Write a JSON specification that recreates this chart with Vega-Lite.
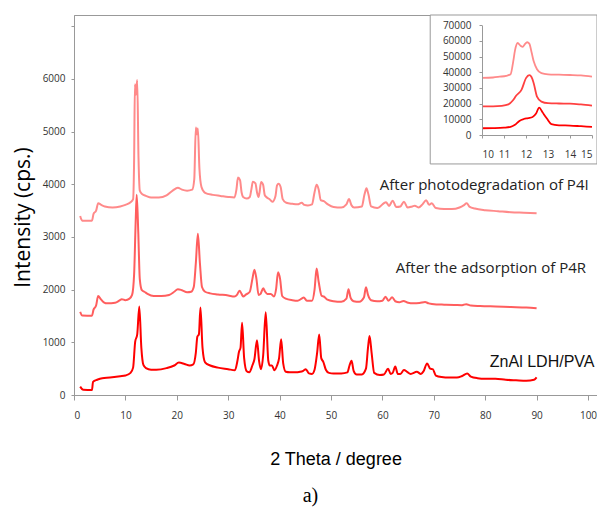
{
  "$schema": "https://vega.github.io/schema/vega-lite/v6.json",
  "width": 523,
  "height": 380,
  "autosize": "none",
  "padding": {"left": 74, "top": 15, "right": 0, "bottom": 118},
  "background": "white",
  "config": {"view": {"stroke": "#999", "strokeWidth": 1}},
  "title": {"text": "a)", "orient": "bottom", "font": "Liberation Serif", "fontSize": 20, "fontWeight": "normal", "color": "#000", "dx": -25, "offset": 18},
  "datasets": {
    "main": [
      {"s":"ZnAl","x":1.2,"y":160},{"s":"ZnAl","x":1.8,"y":100},{"s":"ZnAl","x":3.5,"y":95},{"s":"ZnAl","x":3.7,"y":250},{"s":"ZnAl","x":4.5,"y":290},{"s":"ZnAl","x":5.5,"y":320},{"s":"ZnAl","x":7,"y":330},{"s":"ZnAl","x":9,"y":355},{"s":"ZnAl","x":10,"y":370},{"s":"ZnAl","x":11,"y":420},{"s":"ZnAl","x":11.5,"y":520},{"s":"ZnAl","x":11.9,"y":1010},{"s":"ZnAl","x":12.3,"y":1150},{"s":"ZnAl","x":12.7,"y":1680},{"s":"ZnAl","x":13.1,"y":900},{"s":"ZnAl","x":13.5,"y":570},{"s":"ZnAl","x":14,"y":510},{"s":"ZnAl","x":15,"y":480},{"s":"ZnAl","x":16,"y":480},{"s":"ZnAl","x":18,"y":510},{"s":"ZnAl","x":19.5,"y":560},{"s":"ZnAl","x":20.4,"y":615},{"s":"ZnAl","x":21.5,"y":590},{"s":"ZnAl","x":22.5,"y":560},{"s":"ZnAl","x":23.2,"y":580},{"s":"ZnAl","x":23.7,"y":800},{"s":"ZnAl","x":24.0,"y":1110},{"s":"ZnAl","x":24.3,"y":1150},{"s":"ZnAl","x":24.6,"y":1660},{"s":"ZnAl","x":25.0,"y":900},{"s":"ZnAl","x":25.5,"y":620},{"s":"ZnAl","x":26.5,"y":560},{"s":"ZnAl","x":28,"y":520},{"s":"ZnAl","x":30,"y":490},{"s":"ZnAl","x":31.3,"y":470},{"s":"ZnAl","x":31.8,"y":650},{"s":"ZnAl","x":32.1,"y":820},{"s":"ZnAl","x":32.4,"y":900},{"s":"ZnAl","x":32.7,"y":1370},{"s":"ZnAl","x":33.1,"y":700},{"s":"ZnAl","x":33.6,"y":450},{"s":"ZnAl","x":34.1,"y":430},{"s":"ZnAl","x":34.7,"y":560},{"s":"ZnAl","x":35.1,"y":680},{"s":"ZnAl","x":35.6,"y":1040},{"s":"ZnAl","x":36.0,"y":650},{"s":"ZnAl","x":36.4,"y":490},{"s":"ZnAl","x":36.8,"y":750},{"s":"ZnAl","x":37.3,"y":1570},{"s":"ZnAl","x":37.8,"y":650},{"s":"ZnAl","x":38.1,"y":560},{"s":"ZnAl","x":38.5,"y":560},{"s":"ZnAl","x":39.0,"y":470},{"s":"ZnAl","x":39.5,"y":560},{"s":"ZnAl","x":39.9,"y":700},{"s":"ZnAl","x":40.3,"y":1060},{"s":"ZnAl","x":40.7,"y":600},{"s":"ZnAl","x":41.2,"y":440},{"s":"ZnAl","x":42,"y":430},{"s":"ZnAl","x":43,"y":430},{"s":"ZnAl","x":44,"y":440},{"s":"ZnAl","x":44.6,"y":460},{"s":"ZnAl","x":45.1,"y":490},{"s":"ZnAl","x":45.7,"y":410},{"s":"ZnAl","x":46.3,"y":400},{"s":"ZnAl","x":46.8,"y":480},{"s":"ZnAl","x":47.3,"y":800},{"s":"ZnAl","x":47.7,"y":1150},{"s":"ZnAl","x":48.1,"y":700},{"s":"ZnAl","x":48.5,"y":630},{"s":"ZnAl","x":49,"y":480},{"s":"ZnAl","x":49.6,"y":420},{"s":"ZnAl","x":50.5,"y":410},{"s":"ZnAl","x":52,"y":410},{"s":"ZnAl","x":53.2,"y":430},{"s":"ZnAl","x":53.6,"y":560},{"s":"ZnAl","x":54.0,"y":650},{"s":"ZnAl","x":54.4,"y":460},{"s":"ZnAl","x":55,"y":390},{"s":"ZnAl","x":56,"y":390},{"s":"ZnAl","x":56.8,"y":500},{"s":"ZnAl","x":57.2,"y":900},{"s":"ZnAl","x":57.5,"y":1120},{"s":"ZnAl","x":57.9,"y":800},{"s":"ZnAl","x":58.4,"y":420},{"s":"ZnAl","x":59.5,"y":380},{"s":"ZnAl","x":60.3,"y":390},{"s":"ZnAl","x":61.1,"y":500},{"s":"ZnAl","x":61.6,"y":400},{"s":"ZnAl","x":62.0,"y":420},{"s":"ZnAl","x":62.5,"y":540},{"s":"ZnAl","x":63.0,"y":400},{"s":"ZnAl","x":63.5,"y":400},{"s":"ZnAl","x":64.2,"y":475},{"s":"ZnAl","x":64.8,"y":440},{"s":"ZnAl","x":65.5,"y":400},{"s":"ZnAl","x":66.7,"y":440},{"s":"ZnAl","x":67.5,"y":400},{"s":"ZnAl","x":68.0,"y":450},{"s":"ZnAl","x":68.7,"y":600},{"s":"ZnAl","x":69.3,"y":500},{"s":"ZnAl","x":69.8,"y":490},{"s":"ZnAl","x":70.4,"y":370},{"s":"ZnAl","x":71.5,"y":340},{"s":"ZnAl","x":73,"y":330},{"s":"ZnAl","x":74.5,"y":330},{"s":"ZnAl","x":75.5,"y":360},{"s":"ZnAl","x":76.5,"y":410},{"s":"ZnAl","x":77.2,"y":350},{"s":"ZnAl","x":78.5,"y":320},{"s":"ZnAl","x":80,"y":310},{"s":"ZnAl","x":82,"y":310},{"s":"ZnAl","x":84,"y":290},{"s":"ZnAl","x":86,"y":280},{"s":"ZnAl","x":88,"y":272},{"s":"ZnAl","x":89.5,"y":290},{"s":"ZnAl","x":90,"y":335},
      {"s":"Ads","x":1.2,"y":1580},{"s":"Ads","x":1.6,"y":1510},{"s":"Ads","x":3.5,"y":1505},{"s":"Ads","x":3.8,"y":1620},{"s":"Ads","x":4.3,"y":1700},{"s":"Ads","x":4.7,"y":1880},{"s":"Ads","x":5.2,"y":1820},{"s":"Ads","x":5.8,"y":1760},{"s":"Ads","x":6.5,"y":1740},{"s":"Ads","x":8,"y":1750},{"s":"Ads","x":8.8,"y":1790},{"s":"Ads","x":9.3,"y":1820},{"s":"Ads","x":10,"y":1800},{"s":"Ads","x":10.8,"y":1830},{"s":"Ads","x":11.3,"y":1900},{"s":"Ads","x":11.7,"y":2300},{"s":"Ads","x":12.0,"y":3300},{"s":"Ads","x":12.2,"y":3800},{"s":"Ads","x":12.5,"y":3100},{"s":"Ads","x":12.8,"y":2200},{"s":"Ads","x":13.2,"y":1990},{"s":"Ads","x":13.7,"y":1960},{"s":"Ads","x":14.3,"y":1920},{"s":"Ads","x":15.5,"y":1880},{"s":"Ads","x":17,"y":1880},{"s":"Ads","x":18.5,"y":1900},{"s":"Ads","x":19.5,"y":1960},{"s":"Ads","x":20.2,"y":2010},{"s":"Ads","x":21,"y":1990},{"s":"Ads","x":22,"y":1950},{"s":"Ads","x":22.8,"y":1960},{"s":"Ads","x":23.3,"y":2050},{"s":"Ads","x":23.7,"y":2500},{"s":"Ads","x":24.1,"y":3060},{"s":"Ads","x":24.5,"y":2500},{"s":"Ads","x":24.9,"y":2050},{"s":"Ads","x":25.5,"y":1960},{"s":"Ads","x":26.5,"y":1930},{"s":"Ads","x":28,"y":1910},{"s":"Ads","x":30,"y":1890},{"s":"Ads","x":31.2,"y":1870},{"s":"Ads","x":31.7,"y":1900},{"s":"Ads","x":32.2,"y":1980},{"s":"Ads","x":32.6,"y":1920},{"s":"Ads","x":32.9,"y":1870},{"s":"Ads","x":33.5,"y":1910},{"s":"Ads","x":34.2,"y":1960},{"s":"Ads","x":34.7,"y":2200},{"s":"Ads","x":35.1,"y":2380},{"s":"Ads","x":35.5,"y":2200},{"s":"Ads","x":35.9,"y":1900},{"s":"Ads","x":36.3,"y":1920},{"s":"Ads","x":36.8,"y":2025},{"s":"Ads","x":37.2,"y":1960},{"s":"Ads","x":37.6,"y":1920},{"s":"Ads","x":38.3,"y":1920},{"s":"Ads","x":38.9,"y":1870},{"s":"Ads","x":39.3,"y":2000},{"s":"Ads","x":39.7,"y":2330},{"s":"Ads","x":40.1,"y":2200},{"s":"Ads","x":40.5,"y":1880},{"s":"Ads","x":41.2,"y":1830},{"s":"Ads","x":42.5,"y":1800},{"s":"Ads","x":43.5,"y":1790},{"s":"Ads","x":44.3,"y":1830},{"s":"Ads","x":44.7,"y":1850},{"s":"Ads","x":45.3,"y":1790},{"s":"Ads","x":46.3,"y":1790},{"s":"Ads","x":46.8,"y":2000},{"s":"Ads","x":47.2,"y":2400},{"s":"Ads","x":47.6,"y":2150},{"s":"Ads","x":48.2,"y":1880},{"s":"Ads","x":48.6,"y":1870},{"s":"Ads","x":49.3,"y":1810},{"s":"Ads","x":50.5,"y":1780},{"s":"Ads","x":52,"y":1770},{"s":"Ads","x":53.0,"y":1830},{"s":"Ads","x":53.4,"y":2010},{"s":"Ads","x":53.8,"y":1850},{"s":"Ads","x":54.4,"y":1780},{"s":"Ads","x":55.5,"y":1770},{"s":"Ads","x":56.4,"y":1850},{"s":"Ads","x":56.8,"y":2045},{"s":"Ads","x":57.2,"y":1900},{"s":"Ads","x":57.8,"y":1800},{"s":"Ads","x":59,"y":1780},{"s":"Ads","x":60.0,"y":1790},{"s":"Ads","x":60.6,"y":1865},{"s":"Ads","x":61.2,"y":1790},{"s":"Ads","x":61.9,"y":1855},{"s":"Ads","x":62.5,"y":1780},{"s":"Ads","x":63.3,"y":1760},{"s":"Ads","x":64.1,"y":1785},{"s":"Ads","x":65,"y":1750},{"s":"Ads","x":66,"y":1740},{"s":"Ads","x":67.2,"y":1745},{"s":"Ads","x":68.3,"y":1765},{"s":"Ads","x":69,"y":1740},{"s":"Ads","x":70.5,"y":1720},{"s":"Ads","x":72,"y":1715},{"s":"Ads","x":74,"y":1710},{"s":"Ads","x":75.5,"y":1705},{"s":"Ads","x":76.3,"y":1725},{"s":"Ads","x":77.2,"y":1700},{"s":"Ads","x":79,"y":1690},{"s":"Ads","x":82,"y":1680},{"s":"Ads","x":85,"y":1670},{"s":"Ads","x":88,"y":1660},{"s":"Ads","x":90,"y":1645},
      {"s":"Photo","x":1.2,"y":3400},{"s":"Photo","x":1.6,"y":3310},{"s":"Photo","x":3.5,"y":3310},{"s":"Photo","x":3.8,"y":3440},{"s":"Photo","x":4.3,"y":3500},{"s":"Photo","x":4.7,"y":3640},{"s":"Photo","x":5.3,"y":3610},{"s":"Photo","x":6,"y":3580},{"s":"Photo","x":7.5,"y":3560},{"s":"Photo","x":9,"y":3580},{"s":"Photo","x":10,"y":3610},{"s":"Photo","x":11,"y":3660},{"s":"Photo","x":11.5,"y":3720},{"s":"Photo","x":11.7,"y":4500},{"s":"Photo","x":11.85,"y":5900},{"s":"Photo","x":12.05,"y":5700},{"s":"Photo","x":12.3,"y":5980},{"s":"Photo","x":12.55,"y":4500},{"s":"Photo","x":12.8,"y":3880},{"s":"Photo","x":13.3,"y":3810},{"s":"Photo","x":14,"y":3780},{"s":"Photo","x":15,"y":3750},{"s":"Photo","x":16.5,"y":3750},{"s":"Photo","x":18,"y":3790},{"s":"Photo","x":19.2,"y":3880},{"s":"Photo","x":20.2,"y":3935},{"s":"Photo","x":21,"y":3900},{"s":"Photo","x":22,"y":3880},{"s":"Photo","x":23,"y":3900},{"s":"Photo","x":23.4,"y":4100},{"s":"Photo","x":23.7,"y":5080},{"s":"Photo","x":23.9,"y":4950},{"s":"Photo","x":24.1,"y":5060},{"s":"Photo","x":24.4,"y":4300},{"s":"Photo","x":24.8,"y":3950},{"s":"Photo","x":25.5,"y":3840},{"s":"Photo","x":27,"y":3800},{"s":"Photo","x":28.5,"y":3780},{"s":"Photo","x":30,"y":3760},{"s":"Photo","x":31.2,"y":3750},{"s":"Photo","x":31.6,"y":3900},{"s":"Photo","x":31.9,"y":4130},{"s":"Photo","x":32.3,"y":4080},{"s":"Photo","x":32.6,"y":3850},{"s":"Photo","x":32.9,"y":3760},{"s":"Photo","x":33.6,"y":3730},{"s":"Photo","x":34.2,"y":3760},{"s":"Photo","x":34.5,"y":3900},{"s":"Photo","x":34.8,"y":4050},{"s":"Photo","x":35.3,"y":4020},{"s":"Photo","x":35.6,"y":3850},{"s":"Photo","x":35.9,"y":3760},{"s":"Photo","x":36.1,"y":3850},{"s":"Photo","x":36.4,"y":4045},{"s":"Photo","x":36.8,"y":3990},{"s":"Photo","x":37.1,"y":3800},{"s":"Photo","x":37.4,"y":3760},{"s":"Photo","x":38,"y":3720},{"s":"Photo","x":38.6,"y":3670},{"s":"Photo","x":39.2,"y":3780},{"s":"Photo","x":39.5,"y":3980},{"s":"Photo","x":39.8,"y":4010},{"s":"Photo","x":40.2,"y":3950},{"s":"Photo","x":40.6,"y":3720},{"s":"Photo","x":41.3,"y":3650},{"s":"Photo","x":42.5,"y":3630},{"s":"Photo","x":43.5,"y":3620},{"s":"Photo","x":44.3,"y":3650},{"s":"Photo","x":44.8,"y":3610},{"s":"Photo","x":45.5,"y":3600},{"s":"Photo","x":46.3,"y":3620},{"s":"Photo","x":46.8,"y":3850},{"s":"Photo","x":47.2,"y":3990},{"s":"Photo","x":47.6,"y":3900},{"s":"Photo","x":48,"y":3700},{"s":"Photo","x":48.6,"y":3680},{"s":"Photo","x":49.4,"y":3620},{"s":"Photo","x":50.5,"y":3570},{"s":"Photo","x":52,"y":3560},{"s":"Photo","x":53.0,"y":3620},{"s":"Photo","x":53.5,"y":3720},{"s":"Photo","x":54.0,"y":3600},{"s":"Photo","x":54.5,"y":3560},{"s":"Photo","x":56,"y":3580},{"s":"Photo","x":56.5,"y":3800},{"s":"Photo","x":56.9,"y":3925},{"s":"Photo","x":57.3,"y":3800},{"s":"Photo","x":57.8,"y":3580},{"s":"Photo","x":59,"y":3550},{"s":"Photo","x":60.7,"y":3660},{"s":"Photo","x":61.3,"y":3590},{"s":"Photo","x":62.0,"y":3690},{"s":"Photo","x":62.7,"y":3570},{"s":"Photo","x":63.5,"y":3580},{"s":"Photo","x":64.2,"y":3670},{"s":"Photo","x":64.9,"y":3560},{"s":"Photo","x":65.8,"y":3580},{"s":"Photo","x":66.3,"y":3595},{"s":"Photo","x":67,"y":3560},{"s":"Photo","x":67.8,"y":3620},{"s":"Photo","x":68.5,"y":3700},{"s":"Photo","x":69.1,"y":3610},{"s":"Photo","x":69.6,"y":3640},{"s":"Photo","x":70.4,"y":3550},{"s":"Photo","x":72,"y":3530},{"s":"Photo","x":73.5,"y":3530},{"s":"Photo","x":75,"y":3560},{"s":"Photo","x":75.8,"y":3600},{"s":"Photo","x":76.4,"y":3640},{"s":"Photo","x":77,"y":3570},{"s":"Photo","x":78,"y":3540},{"s":"Photo","x":80,"y":3510},{"s":"Photo","x":82.5,"y":3490},{"s":"Photo","x":85,"y":3470},{"s":"Photo","x":87.5,"y":3460},{"s":"Photo","x":90,"y":3450}
    ],
    "inset": [
      {"s":"Photo","x":10,"y":36500},{"s":"Photo","x":10.5,"y":36700},{"s":"Photo","x":10.8,"y":37200},{"s":"Photo","x":11.1,"y":37800},{"s":"Photo","x":11.3,"y":38800},{"s":"Photo","x":11.42,"y":47000},{"s":"Photo","x":11.5,"y":54000},{"s":"Photo","x":11.62,"y":58700},{"s":"Photo","x":11.75,"y":57000},{"s":"Photo","x":11.85,"y":56200},{"s":"Photo","x":11.95,"y":58000},{"s":"Photo","x":12.05,"y":59200},{"s":"Photo","x":12.15,"y":58300},{"s":"Photo","x":12.25,"y":53000},{"s":"Photo","x":12.35,"y":47000},{"s":"Photo","x":12.5,"y":42000},{"s":"Photo","x":12.7,"y":39500},{"s":"Photo","x":13,"y":38700},{"s":"Photo","x":13.5,"y":38500},{"s":"Photo","x":14,"y":38300},{"s":"Photo","x":14.5,"y":38000},{"s":"Photo","x":15,"y":37200},
      {"s":"Ads","x":10,"y":18300},{"s":"Ads","x":10.5,"y":18300},{"s":"Ads","x":10.9,"y":18600},{"s":"Ads","x":11.2,"y":19500},{"s":"Ads","x":11.4,"y":22000},{"s":"Ads","x":11.55,"y":25000},{"s":"Ads","x":11.8,"y":29000},{"s":"Ads","x":12.0,"y":36300},{"s":"Ads","x":12.15,"y":38200},{"s":"Ads","x":12.25,"y":37000},{"s":"Ads","x":12.35,"y":33000},{"s":"Ads","x":12.5,"y":24500},{"s":"Ads","x":12.7,"y":21300},{"s":"Ads","x":13,"y":20300},{"s":"Ads","x":13.5,"y":20100},{"s":"Ads","x":14,"y":20000},{"s":"Ads","x":14.5,"y":19500},{"s":"Ads","x":15,"y":18800},
      {"s":"ZnAl","x":10,"y":4300},{"s":"ZnAl","x":10.5,"y":4400},{"s":"ZnAl","x":11,"y":4700},{"s":"ZnAl","x":11.3,"y":5200},{"s":"ZnAl","x":11.5,"y":6500},{"s":"ZnAl","x":11.7,"y":9000},{"s":"ZnAl","x":11.9,"y":10200},{"s":"ZnAl","x":12.1,"y":10800},{"s":"ZnAl","x":12.3,"y":11500},{"s":"ZnAl","x":12.45,"y":13500},{"s":"ZnAl","x":12.6,"y":17500},{"s":"ZnAl","x":12.75,"y":14500},{"s":"ZnAl","x":12.95,"y":10500},{"s":"ZnAl","x":13.15,"y":7000},{"s":"ZnAl","x":13.5,"y":6200},{"s":"ZnAl","x":14,"y":6000},{"s":"ZnAl","x":14.5,"y":5600},{"s":"ZnAl","x":15,"y":5200}
    ],
    "labelsA": [
      {"x":59.5,"y":3988,"label":"After photodegradation of P4I"},
      {"x":62.6,"y":2412,"label":"After the adsorption of P4R"}
    ],
    "labelsB": [
      {"x":80.9,"y":627,"label":"ZnAl LDH/PVA"}
    ],
    "box": [
      {"x":69.3,"x2":101.75,"y":4387,"y2":7215}
    ]
  },
  "layer": [
    {
      "layer": [
        {
          "data": {"name": "main"},
          "mark": {"type": "line", "strokeWidth": 2, "interpolate": "monotone"},
          "encoding": {
            "x": {"field": "x", "type": "quantitative",
              "scale": {"domain": [0, 101.75], "nice": false, "zero": false},
              "axis": {"title": "2 Theta / degree", "values": [0,10,20,30,40,50,60,70,80,90,100], "grid": false,
                "domainColor": "#999", "tickColor": "#999", "tickSize": 5, "labelPadding": 10,
                "labelFont": "Open Sans", "labelFontSize": 10, "labelColor": "#333",
                "titleFont": "Liberation Sans", "titleFontSize": 18, "titleFontWeight": "normal", "titleColor": "#000",
                "titleY": 64, "titleBaseline": "middle"}},
            "y": {"field": "y", "type": "quantitative",
              "scale": {"domain": [0, 7215], "nice": false, "zero": false},
              "axis": {"title": "Intensity (cps.)", "values": [0,1000,2000,3000,4000,5000,6000,7000], "grid": false,
                "labelExpr": "datum.value == 7000 ? '' : datum.label", "format": "d",
                "domainColor": "#999", "tickColor": "#999", "tickSize": 3, "labelPadding": 6,
                "labelFont": "Open Sans", "labelFontSize": 10, "labelColor": "#333",
                "titleFont": "Open Sans", "titleFontSize": 21, "titleFontWeight": "normal", "titleColor": "#000",
                "titleX": -51, "titleY": 202, "titleBaseline": "middle", "titleAlign": "center"}},
            "color": {"field": "s", "type": "nominal", "legend": null,
              "scale": {"domain": ["Photo", "Ads", "ZnAl"], "range": ["#ff8a8a", "#ff5e5e", "#ff0000"]}}
          }
        },
        {
          "data": {"name": "labelsA"},
          "mark": {"type": "text", "align": "left", "baseline": "middle", "font": "Open Sans", "fontSize": 15, "color": "#222"},
          "encoding": {
            "x": {"field": "x", "type": "quantitative"},
            "y": {"field": "y", "type": "quantitative"},
            "text": {"field": "label"}
          }
        },
        {
          "data": {"name": "labelsB"},
          "mark": {"type": "text", "align": "left", "baseline": "middle", "font": "Liberation Sans", "fontSize": 16, "color": "#111"},
          "encoding": {
            "x": {"field": "x", "type": "quantitative"},
            "y": {"field": "y", "type": "quantitative"},
            "text": {"field": "label"}
          }
        },
        {
          "data": {"name": "box"},
          "mark": {"type": "rect", "fill": "white", "stroke": "#999", "strokeWidth": 1},
          "encoding": {
            "x": {"field": "x", "type": "quantitative"},
            "x2": {"field": "x2"},
            "y": {"field": "y", "type": "quantitative"},
            "y2": {"field": "y2"}
          }
        }
      ]
    },
    {
      "data": {"name": "inset"},
      "mark": {"type": "line", "strokeWidth": 1.8, "interpolate": "monotone"},
      "encoding": {
        "x": {"field": "x", "type": "quantitative",
          "scale": {"domain": [10, 15], "range": [408, 518], "nice": false, "zero": false},
          "axis": {"orient": "bottom", "offset": -260, "title": null, "values": [10,11,12,13,14,15], "grid": false, "zindex": 1,
            "domainColor": "#999", "tickColor": "#999", "tickSize": 3, "labelPadding": 11,
            "labelFont": "Open Sans", "labelFontSize": 10, "labelColor": "#333"}},
        "y": {"field": "y", "type": "quantitative",
          "scale": {"domain": [0, 70000], "range": [120, 10.3], "nice": false, "zero": false},
          "axis": {"orient": "left", "offset": -408, "title": null, "values": [0,10000,20000,30000,40000,50000,60000,70000], "grid": false, "zindex": 1, "format": "d",
            "domainColor": "#999", "tickColor": "#999", "tickSize": 3, "labelPadding": 8,
            "labelFont": "Open Sans", "labelFontSize": 10, "labelColor": "#333"}},
        "color": {"field": "s", "type": "nominal", "legend": null,
          "scale": {"domain": ["Photo", "Ads", "ZnAl"], "range": ["#ff8a8a", "#ff4040", "#ff0000"]}}
      }
    }
  ],
  "resolve": {"scale": {"x": "independent", "y": "independent", "color": "independent"}, "axis": {"x": "independent", "y": "independent"}}
}
